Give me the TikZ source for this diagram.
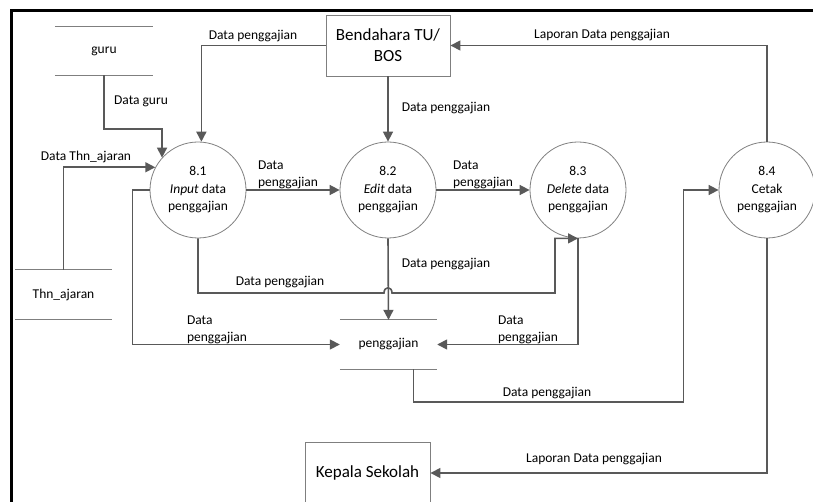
\documentclass[tikz,border=0pt]{standalone}
\usepackage{fontspec}
\setmainfont{Carlito}
\usetikzlibrary{arrows.meta}
\definecolor{ln}{HTML}{595959}
\definecolor{cb}{HTML}{7F7F7F}
\begin{document}
\begin{tikzpicture}[x=1pt,y=-1pt,
  flow/.style={draw=ln, line width=1.6pt, -{Triangle[length=10pt,width=10pt]}},
  proc/.style={circle, draw=cb, line width=0.8pt, minimum size=96pt, inner sep=0pt, align=center, font=\fontsize{13.5}{17.5}\selectfont},
  ent/.style={draw=cb, line width=0.9pt, minimum width=124pt, minimum height=61pt, inner sep=0pt, align=center, font=\fontsize{17}{21}\selectfont},
  store/.style={minimum width=98pt, minimum height=48pt, inner sep=0pt, font=\fontsize{13.5}{16}\selectfont},
  storeline/.style={draw=cb, line width=1pt},
  lbl/.style={font=\fontsize{13.5}{17}\selectfont, align=left, inner sep=0pt}]
\useasboundingbox (0,0) rectangle (813,502);
\clip (0,0) rectangle (813,502);
\draw[line width=3pt, line join=miter] (11.5,503) -- (11.5,10.5) -- (814,10.5);
% stores
\node[store] (guru) at (104,51) {guru};
\draw[storeline] (guru.north west) -- (guru.north east) (guru.south west) -- (guru.south east);
\node[store, minimum width=97pt, minimum height=49pt] (thn) at (63.5,294.5) {Thn\_ajaran};
\draw[storeline] (thn.north west) -- (thn.north east) (thn.south west) -- (thn.south east);
\node[store, minimum width=97pt, minimum height=49pt] (pg) at (388.5,344.5) {penggajian};
\draw[storeline] (pg.north west) -- (pg.north east) (pg.south west) -- (pg.south east);
% entities
\node[ent] (bend) at (388,45.5) {Bendahara TU/\\BOS};
\node[ent, minimum width=125pt, minimum height=62pt] (kep) at (367.5,473) {Kepala Sekolah};
% processes
\node[proc] (c1) at (198,190) {8.1\\\textit{Input} data\\penggajian};
\node[proc] (c2) at (388,190) {8.2\\\textit{Edit} data\\penggajian};
\node[proc] (c3) at (578,190) {8.3\\\textit{Delete} data\\penggajian};
\node[proc] (c4) at (767,190) {8.4\\Cetak\\penggajian};
% flows
\draw[flow] (guru.south) -- ++(0,54) -| (c1.138.6);
\draw[flow] (bend.west) -| (c1.86);
\draw[flow] (thn.north) |- (c1.152.75);
\draw[flow] (c1.east) -- (c2.west);
\draw[flow] (c1.west) -- ++(-17,0) |- (pg.west);
\draw[flow] (c1.south) |- (384,293) .. controls (384,286) and (392,286) .. (392,293) -- (555,293) |- (c3.south);
\draw[flow] (bend.south) -- (c2.north);
\draw[flow] (c2.east) -- (c3.west);
\draw[flow] (c2.south) -- (pg.north);
\draw[flow] (c3.south) |- (pg.east);
\draw[flow] ([xshift=25pt]pg.south) -- ++(0,33) -- ++(270,0) |- (c4.west);
\draw[flow] (c4.north) |- (bend.east);
\draw[flow] (c4.south) |- (kep.east);
% labels
\node[lbl] (l1) at (141,101) {Data guru};
\node[lbl] (l2) at (253,36) {Data penggajian};
\node[lbl] (l3) at (86,157) {Data Thn\_ajaran};
\node[lbl] (l4) at (288,174.5) {Data\\penggajian};
\node[lbl] (l5) at (217,330) {Data\\penggajian};
\node[lbl] (l6) at (280,282) {Data penggajian};
\node[lbl] (l7) at (446,108) {Data penggajian};
\node[lbl] (l8) at (483,174.5) {Data\\penggajian};
\node[lbl] (l9) at (446,264) {Data penggajian};
\node[lbl] (l10) at (528,330) {Data\\penggajian};
\node[lbl] (l11) at (547,393) {Data penggajian};
\node[lbl] (l12) at (602,35) {Laporan Data penggajian};
\node[lbl] (l13) at (594,459) {Laporan Data penggajian};
\end{tikzpicture}
\end{document}
